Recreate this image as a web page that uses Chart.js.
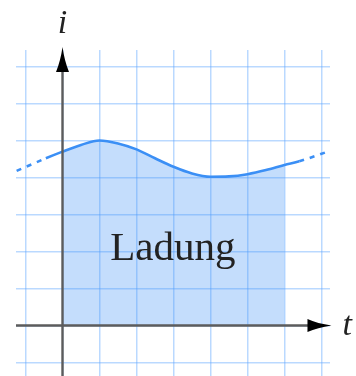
<!DOCTYPE html>
<html>
<head>
<meta charset="utf-8">
<script src="https://cdn.jsdelivr.net/npm/chart.js@4.4.0/dist/chart.umd.min.js"></script>
<style>
    html, body { margin: 0; padding: 0; background: #fff; }
</style>
</head>
<body>
<canvas id="chart" width="356" height="376"></canvas>
<script>
// Stromverlauf i(t), Kästchen = 1 Einheit
var zeit  = [-1.24, -0.45, 0, 0.5, 1, 1.5, 2, 2.5, 3, 3.5, 4, 4.5, 5, 5.5, 6, 6.4, 7.23];
var strom = [4.18, 4.52, 4.70, 4.88, 5.00, 4.92, 4.76, 4.52, 4.29, 4.11, 4.02, 4.03, 4.09, 4.20, 4.34, 4.44, 4.72];

// Fläche unter der Kurve (Ladung) zwischen diesen Zeiten
var ladungVon = 0;
var ladungBis = 6;
// ausserhalb davon wird die Kurve gestrichelt
var strichLinks = -0.45;
var strichRechts = 6.4;

var punkte = zeit.map(function (t, k) {
    return { x: t, y: strom[k] };
});
var flaeche = punkte.filter(function (p) {
    return p.x >= ladungVon && p.x <= ladungBis;
});

var blau = "rgb(59, 143, 245)";

// Achsen mit Pfeilen und Beschriftungen
var achsen = {
    id: "achsen",
    afterDatasetsDraw: function (chart) {
        var ctx = chart.ctx;
        var sx = chart.scales.x;
        var sy = chart.scales.y;
        var a = chart.chartArea;
        var x0 = sx.getPixelForValue(0);
        var y0 = sy.getPixelForValue(0);
        var spitzeY = sy.getPixelForValue(7.53);
        var spitzeX = sx.getPixelForValue(7.27);

        ctx.save();
        ctx.strokeStyle = "#5c5c5c";
        ctx.lineWidth = 2.4;
        ctx.beginPath();
        ctx.moveTo(x0, a.bottom);
        ctx.lineTo(x0, spitzeY + 20);
        ctx.moveTo(a.left, y0);
        ctx.lineTo(spitzeX - 20, y0);
        ctx.stroke();

        ctx.fillStyle = "#000";
        ctx.beginPath();
        ctx.moveTo(x0, spitzeY);
        ctx.quadraticCurveTo(x0 + 2, spitzeY + 14, x0 + 6.5, spitzeY + 25);
        ctx.lineTo(x0 - 6.5, spitzeY + 25);
        ctx.quadraticCurveTo(x0 - 2, spitzeY + 14, x0, spitzeY);
        ctx.fill();
        ctx.beginPath();
        ctx.moveTo(spitzeX, y0);
        ctx.quadraticCurveTo(spitzeX - 14, y0 - 2, spitzeX - 24, y0 - 6.5);
        ctx.lineTo(spitzeX - 24, y0 + 6.5);
        ctx.quadraticCurveTo(spitzeX - 14, y0 + 2, spitzeX, y0);
        ctx.fill();

        ctx.fillStyle = "#222";
        ctx.font = 'italic 34px "Liberation Serif"';
        ctx.textAlign = "center";
        ctx.textBaseline = "alphabetic";
        ctx.fillText("i", x0, spitzeY - 14);
        ctx.textAlign = "left";
        ctx.fillText("t", spitzeX + 11, y0 + 10);

        ctx.font = '41px "Liberation Serif"';
        ctx.textAlign = "center";
        ctx.fillText("Ladung", sx.getPixelForValue(2.98), sy.getPixelForValue(1.77));
        ctx.restore();
    }
};

var gitter = {
    color: "rgba(90, 165, 255, 0.42)",
    lineWidth: 1.5,
    drawTicks: false
};

var chart = new Chart(document.getElementById("chart").getContext("2d"), {
    type: "line",
    data: {
        datasets: [
            {
                data: punkte,
                borderColor: blau,
                borderWidth: 2.6,
                pointRadius: 0,
                cubicInterpolationMode: "monotone",
                fill: false,
                segment: {
                    borderDash: function (c) {
                        if (c.p1.parsed.x <= strichLinks || c.p0.parsed.x >= strichRechts) {
                            return [5, 6];
                        }
                        return undefined;
                    }
                }
            },
            {
                data: flaeche,
                borderWidth: 0,
                borderColor: "rgba(0,0,0,0)",
                backgroundColor: "rgba(59, 143, 245, 0.3)",
                pointRadius: 0,
                cubicInterpolationMode: "monotone",
                fill: "origin"
            }
        ]
    },
    options: {
        responsive: false,
        animation: false,
        events: [],
        layout: {
            autoPadding: false,
            padding: { left: 16, right: 26, top: 50, bottom: 0 }
        },
        plugins: {
            legend: { display: false },
            tooltip: { enabled: false }
        },
        scales: {
            x: {
                type: "linear",
                min: -1.257,
                max: 7.23,
                ticks: { display: false, stepSize: 1, includeBounds: false },
                grid: gitter,
                border: { display: false }
            },
            y: {
                type: "linear",
                min: -1.365,
                max: 7.446,
                ticks: { display: false, stepSize: 1, includeBounds: false },
                grid: gitter,
                border: { display: false }
            }
        }
    },
    plugins: [achsen]
});
</script>
</body>
</html>
